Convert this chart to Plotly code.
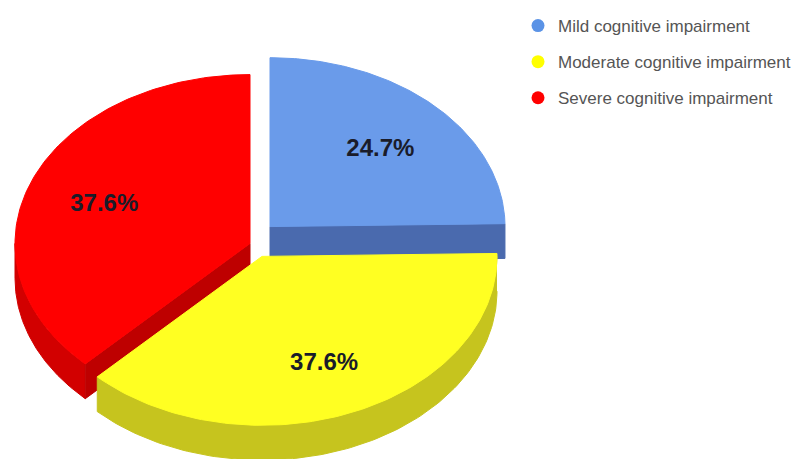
import numpy as np
import plotly.graph_objects as go

# ---- data ----
categories = ["Mild cognitive impairment",
              "Moderate cognitive impairment",
              "Severe cognitive impairment"]
values = [24.7, 37.6, 37.6]
labels = ["24.7%", "37.6%", "37.6%"]

# ---- styles / geometry (pixel units) ----
top_colors = ["#6A9BEA", "#FFFF22", "#FF0000"]
side_colors = ["#4A6AAE", "#C6C41E", "#D20000"]
cut_colors = ["#4A6AAE", "#B8B61A", "#BE0000"]
legend_colors = ["#5B93E6", "#FFFF00", "#FF0000"]

CX, CY = 262, 243
RX, RY, DEPTH = 235, 170, 35
offsets = [(8, -18), (0, 12), (-12, -1)]
LABEL_K = 0.67
LABEL_DY = 4
PAGE_OFF = 8  # page body margin of the html page

fig = go.Figure()

total = sum(values)
bounds = np.concatenate([[0], np.cumsum(values)]) / total * 360.0


def rim(cx, cy, th, dz=0.0):
    t = np.radians(th)
    return cx + RX * np.sin(t), cy - RY * np.cos(t) + dz


def arc(cx, cy, a, b, dz=0.0, n=120):
    th = np.linspace(a, b, n)
    x, y = rim(cx, cy, th, dz)
    return list(x), list(y)


def poly(xs, ys, color):
    fig.add_trace(go.Scatter(x=xs, y=ys, mode="lines", fill="toself",
                             fillcolor=color, line=dict(color=color, width=1),
                             hoverinfo="skip", showlegend=False))


order = sorted(range(len(values)),
               key=lambda i: -abs((bounds[i] + bounds[i + 1]) / 2 - 180))

label_pos = {}
for i in order:
    a, b = bounds[i], bounds[i + 1]
    cx, cy = CX + offsets[i][0], CY + offsets[i][1]
    # outer side wall (front half only)
    lo, hi = max(a, 90), min(b, 270)
    if hi > lo:
        x1, y1 = arc(cx, cy, lo, hi)
        x2, y2 = arc(cx, cy, hi, lo, DEPTH)
        poly(x1 + x2, y1 + y2, side_colors[i])
    # radial cut faces
    if np.sin(np.radians(b)) > 0.01:
        px, py = rim(cx, cy, b)
        poly([cx, px, px, cx, cx], [cy, py, py + DEPTH, cy + DEPTH, cy], cut_colors[i])
    if np.sin(np.radians(a)) < -0.01:
        px, py = rim(cx, cy, a)
        poly([cx, px, px, cx, cx], [cy, py, py + DEPTH, cy + DEPTH, cy], cut_colors[i])
    # top face
    xa, ya = arc(cx, cy, a, b)
    poly([cx] + xa + [cx], [cy] + ya + [cy], top_colors[i])
    m = np.radians((a + b) / 2)
    label_pos[i] = (cx + LABEL_K * RX * np.sin(m),
                    cy - LABEL_K * RY * np.cos(m) + LABEL_DY)

idx = list(range(len(values)))
fig.add_trace(go.Scatter(
    x=[label_pos[i][0] for i in idx], y=[label_pos[i][1] for i in idx],
    mode="text", text=labels, textposition="middle center",
    textfont=dict(family="Liberation Sans", size=24, color="#1a1c2a",
                  weight="bold"),
    hoverinfo="skip", showlegend=False))

for i, cat in enumerate(categories):
    fig.add_trace(go.Scatter(x=[None], y=[None], mode="markers", name=cat,
                             legendgroup=str(i),
                             marker=dict(size=13, color=legend_colors[i])))

fig.update_layout(
    width=802, height=459,
    margin=dict(l=0, r=0, t=0, b=0),
    paper_bgcolor="white", plot_bgcolor="white",
    xaxis=dict(range=[PAGE_OFF, 802 + PAGE_OFF], visible=False, fixedrange=True),
    yaxis=dict(range=[459 + PAGE_OFF, PAGE_OFF], visible=False, fixedrange=True),
    showlegend=True,
    legend=dict(x=(518 - PAGE_OFF) / 802, y=1.0 + 3 / 459, xanchor="left", yanchor="top",
                tracegroupgap=11, bgcolor="rgba(0,0,0,0)",
                font=dict(family="Liberation Sans", size=17, color="#555555")),
)

fig.write_html("out.html")
